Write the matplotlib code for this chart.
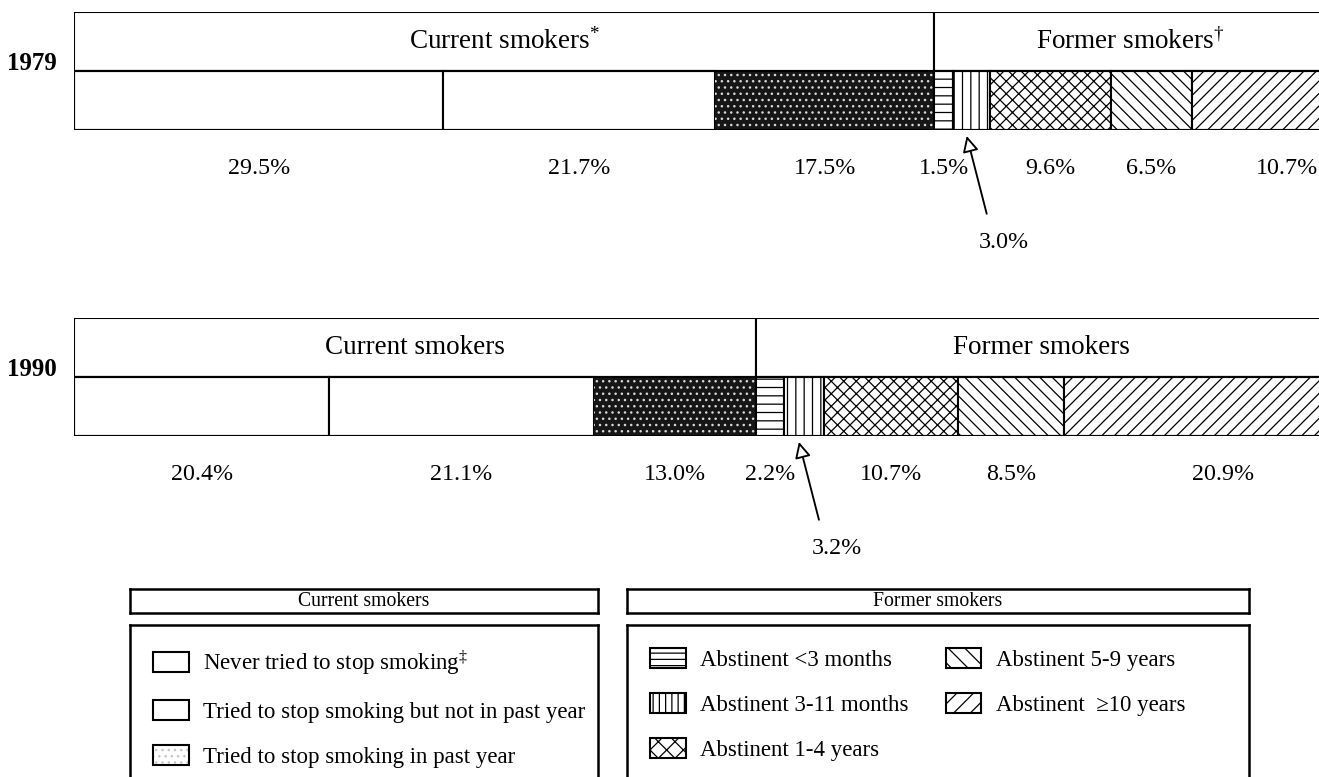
import matplotlib.pyplot as plt
import numpy as np
from matplotlib.legend_handler import HandlerTuple
from matplotlib.patches import Patch

# data
years = ["1979", "1990"]
shares_1979 = [29.5, 21.7, 17.5, 1.5, 3.0, 9.6, 6.5, 10.7]
shares_1990 = [20.4, 21.1, 13.0, 2.2, 3.2, 10.7, 8.5, 20.9]
headers_1979 = [r"Current smokers$^{*}$", r"Former smokers$^{\dagger}$"]
headers_1990 = ["Current smokers", "Former smokers"]
current_labels = [
    r"Never tried to stop smoking$^{\ddagger}$",
    "Tried to stop smoking but not in past year",
    "Tried to stop smoking in past year",
]
former_labels = [
    "Abstinent <3 months",
    "Abstinent 3-11 months",
    "Abstinent 1-4 years",
    "Abstinent 5-9 years",
    "Abstinent  \u226510 years",
]
n_current = len(current_labels)
arrowed_segment = 4  # the thin 3-11 months slice gets an arrow label

# styling
W, H, DPI = 1319, 777, 150
hatches = [None, None, "stipple", "---", "|||", "xxxx", "\\\\\\\\", "////"]
label_nudge = [0, 0, 0, 0, 0, 0, 0, 2.2]
LW = 1.0

plt.rcParams["font.family"] = ["Liberation Serif", "DejaVu Serif"]
plt.rcParams["mathtext.fontset"] = "custom"
plt.rcParams["mathtext.rm"] = "Liberation Serif"
plt.rcParams["mathtext.it"] = "Liberation Serif"
plt.rcParams["mathtext.default"] = "regular"
plt.rcParams["hatch.linewidth"] = 0.6


def px_axes(fig, x0, y0, x1, y1):
    return fig.add_axes([x0 / W, 1 - y1 / H, (x1 - x0) / W, (y1 - y0) / H])


def draw_year(ax, shares, headers, year):
    shares = np.asarray(shares)
    lefts = np.concatenate([[0], np.cumsum(shares)[:-1]])
    cur = shares[:n_current].sum()
    former = shares[n_current:].sum()

    # header row with the two group names
    ax.barh(1.5, [cur, former], left=[0, cur], height=1, color="white",
            edgecolor="black", linewidth=LW)
    for txt, l, w in zip(headers, [0, cur], [cur, former]):
        ax.text(l + w / 2, 1.5, txt, ha="center", va="center", fontsize=13)

    # segment row
    for i, (l, w) in enumerate(zip(lefts, shares)):
        h = hatches[i]
        if h == "stipple":
            ax.barh(0.5, w, left=l, height=1, color="#161616", linewidth=0)
            ax.barh(0.5, w, left=l, height=0.97, facecolor="none",
                    edgecolor="#d8d8d8", hatch="....", linewidth=0)
        else:
            ax.barh(0.5, w, left=l, height=1, facecolor="white",
                    edgecolor="black", hatch=h, linewidth=LW)
    ax.barh(0.5, shares.sum(), left=0, height=1, facecolor="none",
            edgecolor="black", linewidth=LW)

    # percent labels
    for i, (l, w) in enumerate(zip(lefts, shares)):
        c = l + w / 2
        if i == arrowed_segment:
            ax.annotate("", xy=(c - 0.4, -0.1), xytext=(c + 1.2, -1.42),
                        annotation_clip=False,
                        arrowprops=dict(arrowstyle="-|>", fc="white", ec="black",
                                        lw=0.9, mutation_scale=16,
                                        shrinkA=0, shrinkB=0))
            ax.text(c + 2.6, -1.9, f"{w:.1f}%", ha="center", va="center",
                    fontsize=11.5)
        else:
            ax.text(c + label_nudge[i], -0.66, f"{w:.1f}%", ha="center",
                    va="center", fontsize=11.5)

    ax.text(-1.4, 1.12, year, ha="right", va="center", fontsize=12,
            fontweight="bold")
    ax.set_xlim(0, 100)
    ax.set_ylim(0, 2)
    ax.axis("off")


fig = plt.figure(figsize=(W / DPI, H / DPI), dpi=DPI)

ax79 = px_axes(fig, 74, 12, 1326, 130)
draw_year(ax79, shares_1979, headers_1979, years[0])
ax90 = px_axes(fig, 74, 318, 1326, 436)
draw_year(ax90, shares_1990, headers_1990, years[1])

# legend header boxes
for (x0, x1), title in [((130, 598), "Current smokers"), ((627, 1249), "Former smokers")]:
    hax = px_axes(fig, x0, 589, x1, 613)
    hax.set_xticks([])
    hax.set_yticks([])
    for s in hax.spines.values():
        s.set_linewidth(1.2)
    hax.text(0.5, 0.5, title, ha="center", va="center", fontsize=9.5,
             transform=hax.transAxes)

# legend boxes (bottom edge runs off the page like the reference)
box_l = px_axes(fig, 130, 625, 598, 800)
box_r = px_axes(fig, 627, 625, 1249, 800)
for bax in (box_l, box_r):
    bax.set_xticks([])
    bax.set_yticks([])
    for s in bax.spines.values():
        s.set_linewidth(1.2)

cur_handles = [
    Patch(facecolor="white", edgecolor="black", linewidth=LW),
    Patch(facecolor="white", edgecolor="black", linewidth=LW),
    (Patch(facecolor="white", edgecolor="#c4c4c4", hatch="....", linewidth=0),
     Patch(facecolor="none", edgecolor="black", linewidth=LW)),
]
former_handles = [
    Patch(facecolor="white", edgecolor="black", hatch=h, linewidth=LW)
    for h in ["----", "||||", "xxx", "\\\\\\", "///"]
]

leg_kw = dict(loc="upper left", frameon=False, fontsize=11, borderpad=0,
              borderaxespad=0, handlelength=1.55, handleheight=0.95,
              handletextpad=0.65, labelspacing=0.98,
              handler_map={tuple: HandlerTuple(ndivide=1, pad=0)})
box_l.legend(cur_handles, current_labels, bbox_to_anchor=(153 / W, 1 - 648 / H),
             bbox_transform=fig.transFigure, **leg_kw)
box_r.legend(former_handles, former_labels, ncol=2, columnspacing=1.6,
             bbox_to_anchor=(650 / W, 1 - 648 / H),
             bbox_transform=fig.transFigure, **leg_kw)

fig.savefig("out.png", dpi=DPI)
